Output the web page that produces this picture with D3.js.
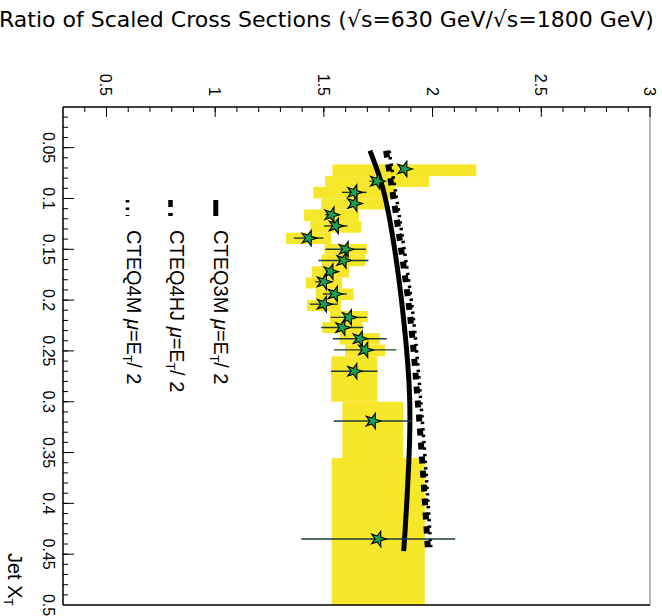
<!DOCTYPE html>
<html>
<head>
<meta charset="utf-8">
<script src="https://cdn.jsdelivr.net/npm/d3@7"></script>
<style>
  html, body { margin: 0; padding: 0; background: #fff; }
  svg { display: block; }
  text { font-family: "Liberation Sans", Arial, sans-serif; fill: #000; }
</style>
</head>
<body>
<svg id="chart" width="662" height="616"></svg>
<script>
// Jet x_T bin centres of the measured points
const jetXT = [0.071, 0.083, 0.094, 0.105, 0.116, 0.127, 0.139, 0.150, 0.161, 0.172,
               0.182, 0.194, 0.204, 0.217, 0.227, 0.238, 0.249, 0.270, 0.319, 0.435];
// measured ratio of scaled cross sections
const ratio = [1.87, 1.745, 1.64, 1.64, 1.535, 1.555, 1.43, 1.60, 1.59, 1.53,
               1.50, 1.55, 1.50, 1.615, 1.585, 1.665, 1.69, 1.64, 1.725, 1.75];
// statistical uncertainty (half width)
const statErr = [0.02, 0.035, 0.057, 0.02, 0.03, 0.054, 0.068, 0.093, 0.115, 0.02,
                 0.04, 0.055, 0.064, 0.083, 0.097, 0.124, 0.143, 0.107, 0.18, 0.354];
// systematic uncertainty band (half width)
const sysErr = [0.331, 0.239, 0.189, 0.152, 0.126, 0.117, 0.104, 0.097, 0.101, 0.085,
                0.083, 0.087, 0.078, 0.087, 0.092, 0.092, 0.092, 0.106, 0.14, 0.214];
// x_T bin edges for the systematic band
const binEdges = [0.0665, 0.078, 0.0886, 0.100, 0.1108, 0.1223, 0.1337, 0.1448, 0.1551, 0.1667,
                  0.1778, 0.1886, 0.200, 0.2108, 0.2216, 0.2325, 0.2438, 0.2553, 0.300, 0.3554, 0.500];

// NLO QCD predictions
const cteq3mXT = [0.053, 0.083, 0.114, 0.147, 0.180, 0.216, 0.265, 0.298, 0.330, 0.364, 0.397, 0.429, 0.447];
const cteq3mR  = [1.712, 1.766, 1.798, 1.824, 1.846, 1.866, 1.888, 1.896, 1.896, 1.890, 1.882, 1.873, 1.867];
const cteq4XT  = [0.053, 0.085, 0.115, 0.15, 0.18, 0.215, 0.25, 0.30, 0.35, 0.40, 0.447];
const cteq4hjR = [1.786, 1.809, 1.832, 1.855, 1.876, 1.897, 1.913, 1.932, 1.950, 1.965, 1.979];
const cteq4mR  = [1.800, 1.823, 1.846, 1.869, 1.890, 1.911, 1.927, 1.946, 1.964, 1.979, 1.993];

const ratioTicks = [0.5, 1, 1.5, 2, 2.5, 3];
const ratioTickLabels = ["0.5", "1", "1.5", "2", "2.5", "3"];
const xtTicks = [0.05, 0.1, 0.15, 0.2, 0.25, 0.3, 0.35, 0.4, 0.45, 0.5];
const xtTickLabels = ["0.05", "0.1", "0.15", "0.2", "0.25", "0.3", "0.35", "0.4", "0.45", "0.5"];

const svg = d3.select("#chart");
const L = 63, R = 650, T = 107, B = 605;

const x = d3.scaleLinear().domain([0.3, 3]).range([L, R]);
const y = d3.scaleLinear().domain([0.01, 0.5]).range([T, B]);

// title
svg.append("text")
  .attr("x", -1).attr("y", 27)
  .style("font-family", "'DejaVu Sans', sans-serif")
  .style("font-size", "22px")
  .text("Ratio of Scaled Cross Sections (\u221As=630 GeV/\u221As=1800 GeV)");

// systematic bands
const g = svg.append("g");
g.selectAll("rect.sys").data(d3.range(ratio.length)).join("rect")
  .attr("class", "sys")
  .attr("x", i => x(ratio[i] - sysErr[i]))
  .attr("width", i => x(ratio[i] + sysErr[i]) - x(ratio[i] - sysErr[i]))
  .attr("y", i => y(binEdges[i]))
  .attr("height", i => y(binEdges[i + 1]) - y(binEdges[i]))
  .attr("fill", "#f6e72a");

// theory curves
const line = (xs, rs) => d3.line().x(d => x(d[1])).y(d => y(d[0])).curve(d3.curveBasis)(xs.map((v, i) => [v, rs[i]]));
g.append("path").attr("d", line(cteq4XT, cteq4mR))
  .attr("fill", "none").attr("stroke", "#000").attr("stroke-width", 3.5).attr("stroke-dasharray", "2.5,4");
g.append("path").attr("d", line(cteq4XT, cteq4hjR))
  .attr("fill", "none").attr("stroke", "#000").attr("stroke-width", 6).attr("stroke-dasharray", "7,7");
g.append("path").attr("d", line(cteq3mXT, cteq3mR))
  .attr("fill", "none").attr("stroke", "#000").attr("stroke-width", 5);

// statistical error bars
g.selectAll("line.stat").data(d3.range(ratio.length)).join("line")
  .attr("class", "stat")
  .attr("x1", i => x(ratio[i] - statErr[i]))
  .attr("x2", i => x(ratio[i] + statErr[i]))
  .attr("y1", i => y(jetXT[i])).attr("y2", i => y(jetXT[i]))
  .attr("stroke", "#1d3d33").attr("stroke-width", 1.4);

// data points
const star = d3.symbol().type(d3.symbolStar).size(75);
g.selectAll("path.pt").data(d3.range(ratio.length)).join("path")
  .attr("class", "pt")
  .attr("d", star)
  .attr("transform", i => `translate(${x(ratio[i])},${y(jetXT[i])}) rotate(90)`)
  .attr("fill", "#1aa252").attr("stroke", "#000").attr("stroke-width", 1.1);

// frame
svg.append("line").attr("x1", R).attr("x2", R).attr("y1", T).attr("y2", B)
  .attr("stroke", "#777").attr("stroke-width", 1);
svg.append("line").attr("x1", L).attr("x2", R).attr("y1", B).attr("y2", B)
  .attr("stroke", "#000").attr("stroke-width", 1.5);

// top ratio axis
const topAxis = svg.append("g");
topAxis.append("line").attr("x1", L).attr("x2", R + 1).attr("y1", T).attr("y2", T)
  .attr("stroke", "#000").attr("stroke-width", 1.5);
topAxis.selectAll("line.minor").data(d3.range(4, 30).map(v => v / 10)).join("line")
  .attr("x1", d => x(d)).attr("x2", d => x(d))
  .attr("y1", T).attr("y2", T + 5)
  .attr("stroke", "#000").attr("stroke-width", 1);
topAxis.selectAll("line.major").data(ratioTicks).join("line")
  .attr("x1", d => x(d)).attr("x2", d => x(d))
  .attr("y1", T).attr("y2", T + 10)
  .attr("stroke", "#000").attr("stroke-width", 1);
topAxis.selectAll("text").data(ratioTicks).join("text")
  .attr("transform", d => `translate(${x(d) - 6},96) rotate(90)`)
  .attr("text-anchor", "end")
  .style("font-size", "16px")
  .text((d, i) => ratioTickLabels[i]);

// left x_T axis
const leftAxis = svg.append("g");
leftAxis.append("line").attr("x1", L).attr("x2", L).attr("y1", T).attr("y2", B)
  .attr("stroke", "#000").attr("stroke-width", 1.5);
leftAxis.selectAll("line.minor").data(d3.range(2, 50).map(v => v / 100)).join("line")
  .attr("x1", L).attr("x2", L + 5)
  .attr("y1", d => y(d)).attr("y2", d => y(d))
  .attr("stroke", "#000").attr("stroke-width", 1);
leftAxis.selectAll("line.major").data(xtTicks.slice(0, -1)).join("line")
  .attr("x1", L).attr("x2", L + 11)
  .attr("y1", d => y(d)).attr("y2", d => y(d))
  .attr("stroke", "#000").attr("stroke-width", 1);
leftAxis.selectAll("text").data(xtTicks).join("text")
  .attr("transform", d => `translate(43,${y(d)}) rotate(90)`)
  .attr("text-anchor", "middle")
  .style("font-size", "16px")
  .text((d, i) => xtTickLabels[i]);

// axis title
const xtTitle = svg.append("text")
  .attr("transform", "translate(8,553) rotate(90)")
  .style("font-size", "20px");
xtTitle.append("tspan").text("Jet X");
xtTitle.append("tspan").attr("dy", 4).style("font-size", "12px").text("T");

// legend
const legendItems = [
  { name: "CTEQ3M", bx: 213.5, lx: 215.8, w: 5, dash: null },
  { name: "CTEQ4HJ", bx: 170, lx: 170.5, w: 4.5, dash: "7,6" },
  { name: "CTEQ4M", bx: 126.5, lx: 127.5, w: 3.6, dash: "2.5,5" }
];
legendItems.forEach(it => {
  svg.append("line")
    .attr("x1", it.lx).attr("x2", it.lx).attr("y1", 200).attr("y2", 216)
    .attr("stroke", "#000").attr("stroke-width", it.w)
    .attr("stroke-dasharray", it.dash);
  const t = svg.append("text")
    .attr("transform", `translate(${it.bx},230) rotate(90)`)
    .style("font-size", "20px");
  t.append("tspan").text(it.name + " ");
  t.append("tspan").style("font-style", "italic").text("\u03BC");
  t.append("tspan").text("=E");
  t.append("tspan").attr("dy", 4).style("font-size", "12px").text("T");
  t.append("tspan").attr("dy", -4).text("/ 2");
});
</script>
</body>
</html>
